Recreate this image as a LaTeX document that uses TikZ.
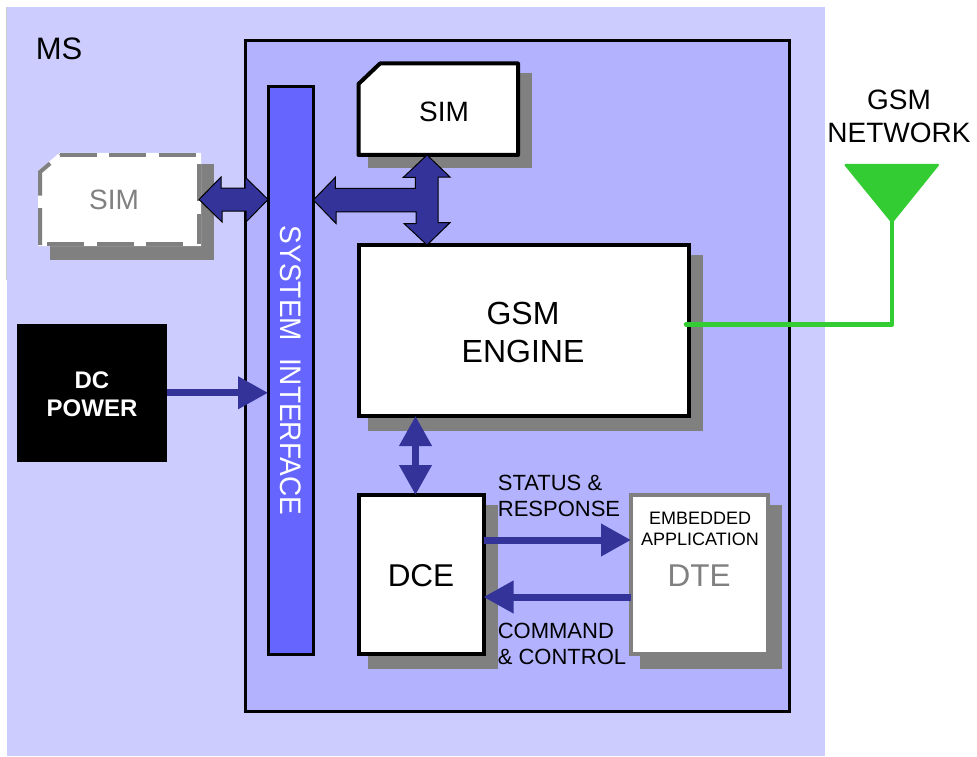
\documentclass[tikz,border=0pt]{standalone}
\usepackage{fontspec}
\setmainfont{Liberation Sans}
\usetikzlibrary{arrows.meta}
\definecolor{outerc}{HTML}{CCCCFF}
\definecolor{innerc}{HTML}{B2B2FF}
\definecolor{navyc}{HTML}{333399}
\definecolor{shadowc}{HTML}{808080}
\definecolor{sysc}{HTML}{6666FF}
\definecolor{greenc}{HTML}{33CC33}
\newcommand{\fsz}[2]{\fontsize{\dimexpr #1pt*3/4\relax}{\dimexpr #2pt*3/4\relax}\selectfont}
\tikzset{
  x=0.75pt,y=-0.75pt,
  box/.style={rectangle,draw=black,fill=white,line width=3pt,outer sep=0pt,inner sep=0pt,align=center,text=black},
  fatarrow/.style={fill=navyc,draw=black,line width=0.75pt,line join=miter},
  solidarrow/.style={draw=navyc,line width=5.25pt,-{Triangle[length=22.5pt,width=23.25pt,fill=navyc]}},
  bothway/.style={draw=navyc,line width=5.25pt,{Triangle[length=22.5pt,width=23.25pt,fill=navyc]}-{Triangle[length=22.5pt,width=23.25pt,fill=navyc]}},
  label/.style={inner sep=0pt,outer sep=0pt,align=left,text=black},
  simdash/.style={draw=shadowc,line width=3pt,dash pattern=on 27.6pt off 9.5pt},
}
\begin{document}
\begin{tikzpicture}
\useasboundingbox (0,0) rectangle (977,756);
\fill[outerc] (7,7) rectangle (825,756);
\fill[black!20] (6,7) rectangle (7,280);
\fill[shadowc] (50,164) rectangle (214,260);
\node[rectangle,draw=black,fill=innerc,line width=2.25pt,outer sep=0pt,inner sep=0pt,minimum width=544*0.75pt,minimum height=670*0.75pt] (inner) at (517.5,376) {};
\fill[shadowc] (368,73) rectangle (532,168);
\fill[shadowc] (368,255) rectangle (702.5,431);
\fill[shadowc] (368,505) rectangle (498,668.5);
\fill[shadowc] (640,505) rectangle (782,668.5);
\node[box,fill=sysc,line width=2.25pt,minimum width=45.3*0.75pt,minimum height=567*0.75pt] (sysif) at (290.7,370.5)
  {\rotatebox{-90}{\scalebox{1}[1.06]{\textcolor{white}{\fsz{28}{28}SYSTEM\hspace{12.75pt}INTERFACE}}}};
\path[fill=white,draw=white,line width=3pt] (60,155) -- (199,155) -- (199,244) -- (40,244) -- (40,172) -- cycle;
\draw[simdash] (60,155) -- (199,155) -- (199,244);
\draw[simdash] (183,244) -- (46,244);
\draw[simdash] (40,245) -- (40,172) -- (60,155);
\node[rectangle,inner sep=0pt,outer sep=0pt,minimum width=159*0.75pt,minimum height=89*0.75pt,text=shadowc,font=\fsz{28}{28}] (simL) at (119.5,199.5) {SIM\hspace*{8.25pt}};
\draw[fill=white,draw=black,line width=3pt,line join=round] (358.5,84) -- (380,63.5) -- (518,63.5) -- (518,155) -- (358.5,155) -- cycle;
\node[rectangle,inner sep=0pt,outer sep=0pt,minimum width=159.5*0.75pt,minimum height=91.5*0.75pt] (simT) at (438.25,109.25) {};
\node[label,font=\fsz{28}{28}] (simtext) at (444,111.5) {SIM};
\node[box,minimum width=330*0.75pt,minimum height=171*0.75pt] (engine) at (523.5,330.5) {};
\node[label,align=center,font=\fsz{32}{37.5}] (enginetext) at (523,332.5) {GSM\\ENGINE};
\node[box,minimum width=125*0.75pt,minimum height=159*0.75pt] (dce) at (421,574.5) {};
\node[label,font=\fsz{31.5}{31}] (dcetext) at (421,575.5) {DCE};
\node[box,draw=shadowc,minimum width=136.5*0.75pt,minimum height=159*0.75pt] (dte) at (699.25,574.5) {};
\node[label,align=center,font=\fsz{18}{21}] (embedded) at (700,528.5) {EMBEDDED\\APPLICATION};
\node[label,text=shadowc,font=\fsz{31.5}{31}] (dtetext) at (699,576) {DTE};
\node[rectangle,fill=black,text=white,outer sep=0pt,inner sep=0pt,minimum width=149.5*0.75pt,minimum height=137.5*0.75pt] (dc) at (92,392.75) {};
\node[label,text=white,align=center,font=\bfseries\fsz{24}{28.5}] (dctext) at (92,394) {DC\\POWER};
\node[label,font=\fsz{31}{31}] (ms) at (59,49) {MS};
\node[label,align=center,font=\fsz{28}{33}] (net) at (899,116) {GSM\\NETWORK};
\node[label,font=\fsz{22}{26}] (status) at (559,496) {STATUS \&\\RESPONSE};
\node[label,font=\fsz{22}{26}] (command) at (562,644) {COMMAND\\\& CONTROL};
\coordinate (apex) at (892,222);
\coordinate (feed) at (686,324.3);
\draw[greenc,line width=3.4pt,line join=round,line cap=round] (feed) -- (apex |- feed) -- (apex);
\draw[greenc,fill=greenc,line width=1.5pt,line join=round] (845.5,165) -- (938,165) -- (apex) -- cycle;
\coordinate (j) at (427,200);
\coordinate (ys) at (0,540);
\coordinate (yc) at (0,597);
\coordinate (yd) at (0,392.8);
\coordinate (xe) at (415.5,0);
\draw[fatarrow] (simL.east) -- ++(22,-22.5) -- ++(0,11) -- ++(24,0) -- ++(0,-11) -- (sysif.west |- simL.east) -- ++(-22,22.5) -- ++(0,-11) -- ++(-24,0) -- ++(0,11) -- cycle;
\draw[fatarrow] (sysif.east |- j) -- ++(22,-22.7) -- ++(0,11) -- ++(80,0) -- ++(0,-11) -- ++(-12,0) -- (j |- simT.south) -- ++(23,22) -- ++(-12,0) -- ++(0,45.7) -- ++(12,0) -- (j |- engine.north) -- ++(-23,-21.5) -- ++(12,0) -- ++(0,-11.7) -- ++(-80,0) -- ++(0,11.7) -- cycle;
\draw[bothway] (xe |- engine.south) -- (xe |- dce.north);
\draw[solidarrow] (dce.east |- ys) -- (dte.west |- ys);
\draw[solidarrow] (dte.west |- yc) -- (dce.east |- yc);
\draw[solidarrow] (dc.east |- yd) -- (sysif.west |- yd);
\end{tikzpicture}
\end{document}
